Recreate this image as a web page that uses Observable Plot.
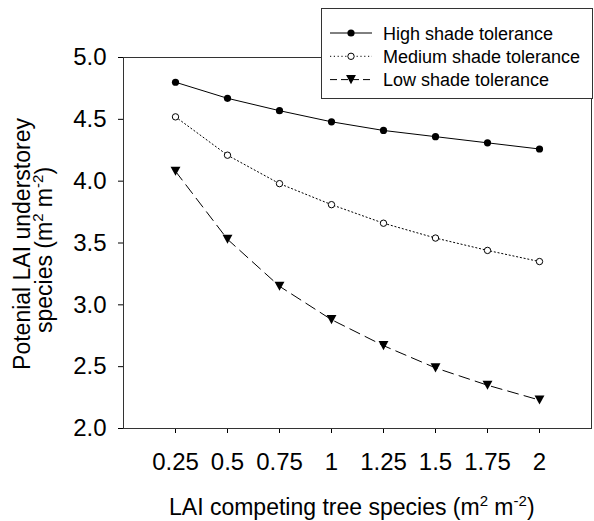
<!DOCTYPE html>
<html>
<head>
<meta charset="utf-8">
<script src="https://cdn.jsdelivr.net/npm/d3@7"></script>
<script src="https://cdn.jsdelivr.net/npm/@observablehq/plot@0.6"></script>
<style>
  html, body { margin: 0; padding: 0; background: #fff; }
  #chart { width: 594px; height: 521px; }
</style>
</head>
<body>
<div id="chart"></div>
<script>
// ---- data ----
const lai = [0.25, 0.5, 0.75, 1, 1.25, 1.5, 1.75, 2];
const highShade = [4.80, 4.67, 4.57, 4.48, 4.41, 4.36, 4.31, 4.26];
const mediumShade = [4.52, 4.21, 3.98, 3.81, 3.66, 3.54, 3.44, 3.35];
const lowShade = [4.08, 3.53, 3.15, 2.88, 2.67, 2.49, 2.35, 2.23];
const seriesNames = ["High shade tolerance", "Medium shade tolerance", "Low shade tolerance"];
const xTicks = [0.25, 0.5, 0.75, 1, 1.25, 1.5, 1.75, 2];
const yTicks = [2.0, 2.5, 3.0, 3.5, 4.0, 4.5, 5.0];

const toRows = (vals, s) => lai.map((x, i) => ({x, y: vals[i], s}));
const high = toRows(highShade, seriesNames[0]);
const medium = toRows(mediumShade, seriesNames[1]);
const low = toRows(lowShade, seriesNames[2]);

// downward triangle symbol
const triangleDown = {
  draw(context, size) {
    const r = Math.sqrt(size / Math.PI);
    const w = r * 1.3, h = r * 1.2;
    context.moveTo(-w, -h);
    context.lineTo(w, -h);
    context.lineTo(0, h);
    context.closePath();
  }
};

const chart = Plot.plot({
  width: 594,
  height: 521,
  marginLeft: 123,
  marginRight: 3,
  marginTop: 57,
  marginBottom: 93,
  style: {fontFamily: "'Liberation Sans', Arial, sans-serif", fontSize: "24px", color: "black", background: "white"},
  x: {domain: [0, 2.25], ticks: xTicks, tickFormat: d => String(d), tickSize: 5, tickPadding: 19, label: null},
  y: {domain: [2, 5], ticks: yTicks, tickFormat: d3.format(".1f"), tickSize: 5, tickPadding: 12, label: null},
  marks: [
    Plot.frame({stroke: "#333"}),
    Plot.line(high, {x: "x", y: "y", stroke: "black", strokeWidth: 1}),
    Plot.line(medium, {x: "x", y: "y", stroke: "black", strokeWidth: 1, strokeDasharray: "1.2,2.6"}),
    Plot.line(low, {x: "x", y: "y", stroke: "black", strokeWidth: 1, strokeDasharray: "11,6"}),
    Plot.dot(high, {x: "x", y: "y", r: 3.6, fill: "black", stroke: "none", symbol: "circle"}),
    Plot.dot(medium, {x: "x", y: "y", r: 3.2, fill: "white", stroke: "black", strokeWidth: 1, symbol: "circle"}),
    Plot.dot(low, {x: "x", y: "y", r: 3.8, fill: "black", stroke: "none", symbol: triangleDown})
  ]
});

document.getElementById("chart").appendChild(chart);

const svg = d3.select(chart);
const font = "'Liberation Sans', Arial, sans-serif";

// x-axis title
const xt = svg.append("text")
  .attr("x", 169).attr("y", 515).attr("text-anchor", "start")
  .attr("font-family", font).attr("font-size", 23).attr("fill", "black");
xt.append("tspan").text("LAI competing tree species (m");
xt.append("tspan").attr("dy", -9).attr("font-size", 15).text("2");
xt.append("tspan").attr("dy", 9).text(" m");
xt.append("tspan").attr("dy", -9).attr("font-size", 15).text("-2");
xt.append("tspan").attr("dy", 9).text(")");

// y-axis title (two lines, rotated)
svg.append("text")
  .attr("transform", "translate(30,244) rotate(-90)")
  .attr("text-anchor", "middle")
  .attr("font-family", font).attr("font-size", 23).attr("fill", "black")
  .text("Potenial LAI understorey");
const yt = svg.append("text")
  .attr("transform", "translate(52,250) rotate(-90)")
  .attr("text-anchor", "middle")
  .attr("font-family", font).attr("font-size", 23).attr("fill", "black");
yt.append("tspan").text("species (m");
yt.append("tspan").attr("dy", -9).attr("font-size", 15).text("2");
yt.append("tspan").attr("dy", 9).text(" m");
yt.append("tspan").attr("dy", -9).attr("font-size", 15).text("-2");
yt.append("tspan").attr("dy", 9).text(")");

// legend
const lg = svg.append("g");
lg.append("rect").attr("x", 321.5).attr("y", 8.5).attr("width", 271).attr("height", 90)
  .attr("fill", "white").attr("stroke", "#333");
const rows = [
  {name: seriesNames[0], dash: null, sym: d3.symbol(d3.symbolCircle, Math.PI * 3.6 * 3.6), fill: "black", stroke: "none"},
  {name: seriesNames[1], dash: "1.2,2.6", sym: d3.symbol(d3.symbolCircle, Math.PI * 3.2 * 3.2), fill: "white", stroke: "black"},
  {name: seriesNames[2], dash: "7,4", sym: d3.symbol(triangleDown, Math.PI * 3.8 * 3.8), fill: "black", stroke: "none"}
];
rows.forEach((r, i) => {
  const cy = 33 + i * 23.3;
  const l = lg.append("line").attr("x1", 330).attr("x2", 372).attr("y1", cy).attr("y2", cy)
    .attr("stroke", "black").attr("stroke-width", 1);
  if (r.dash) l.attr("stroke-dasharray", r.dash);
  lg.append("path").attr("d", r.sym()).attr("transform", `translate(351,${cy})`)
    .attr("fill", r.fill).attr("stroke", r.stroke);
  lg.append("text").attr("x", 383).attr("y", cy + 6.5).attr("text-anchor", "start")
    .attr("font-family", font).attr("font-size", 18).attr("fill", "black").text(r.name);
});
</script>
</body>
</html>
